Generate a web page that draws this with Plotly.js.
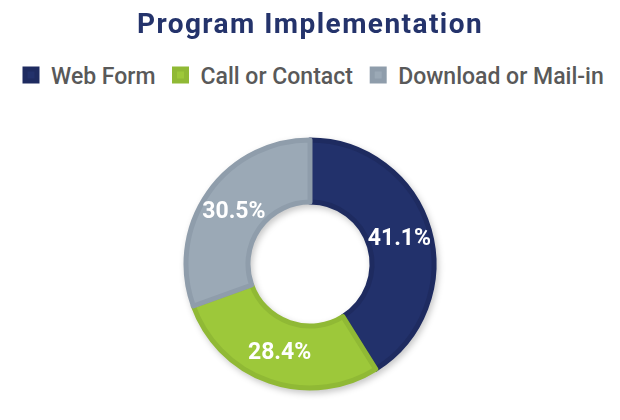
<!DOCTYPE html>
<html>
<head>
<meta charset="utf-8">
<script src="https://cdn.plot.ly/plotly-3.0.1.min.js"></script>
<style>
html,body{margin:0;padding:0;background:#fff;}
#chart{width:620px;height:420px;}
#chart .gtitle{letter-spacing:1.45px;}
#chart .slicetext text, #chart text.slicetext{font-size:23px !important;}
#chart .pielayer .trace{filter:drop-shadow(2px 3px 3px rgba(0,0,0,0.22));}
</style>
</head>
<body>
<div id="chart"></div>
<script>
const categories = ["Web Form", "Call or Contact", "Download or Mail-in"];
const values = [41.1, 28.4, 30.5];
const labelsText = ["41.1%", "28.4%", "30.5%"];
const colors = ["#22316b", "#9dc83a", "#9ba9b6"];
const borderColors = ["#1e2b60", "#90b935", "#8f9dab"];

const trace = {
  type: "pie",
  labels: categories,
  values: values,
  text: labelsText,
  textinfo: "text",
  textposition: "inside",
  insidetextorientation: "horizontal",
  hole: 0.5,
  sort: false,
  direction: "clockwise",
  rotation: 0,
  marker: { colors: colors, line: { color: borderColors, width: 5 } },
  insidetextfont: { family: "Roboto, sans-serif", size: 20, color: "#ffffff", weight: "bold" },
  hoverinfo: "label+percent"
};

const layout = {
  width: 620,
  height: 420,
  margin: { l: 0, r: 0, t: 140, b: 32 },
  paper_bgcolor: "#ffffff",
  font: { family: "Roboto, sans-serif" },
  title: {
    text: "<b>Program Implementation</b>",
    font: { family: "Roboto, sans-serif", size: 28, color: "#24336b" },
    x: 0.5, xanchor: "center",
    y: 0.945, yanchor: "middle", yref: "container"
  },
  showlegend: true,
  legend: {
    orientation: "h",
    x: 0.5, xanchor: "center",
    y: 1.262, yanchor: "middle",
    font: { family: "Roboto, sans-serif", size: 23, color: "#595959", weight: 500 },
    itemwidth: 30,
    traceorder: "normal"
  }
};

Plotly.newPlot("chart", [trace], layout, { displayModeBar: false, staticPlot: true });
</script>
</body>
</html>
